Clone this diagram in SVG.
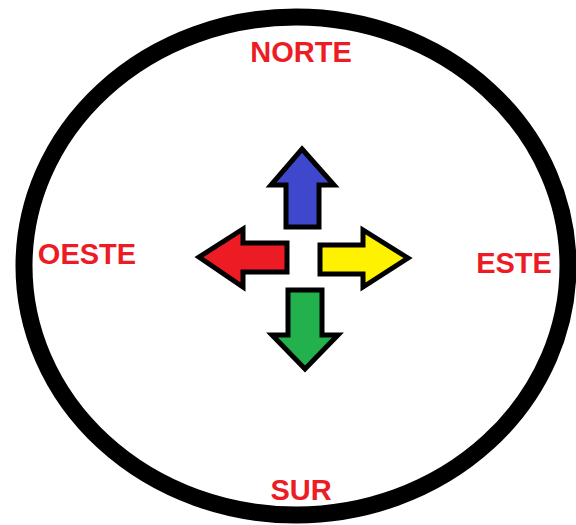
<svg xmlns="http://www.w3.org/2000/svg" width="576" height="525" viewBox="0 0 576 525">
<style>
.lbl{font-family:"Liberation Sans",Arial,sans-serif;font-weight:bold;font-size:29px;fill:#ed1c24;text-anchor:middle}
.arr{stroke:#000;stroke-width:5;stroke-linejoin:miter}
</style>
<rect width="576" height="525" fill="#fff"/>
<g id="ring"><ellipse cx="296" cy="266" rx="272" ry="249" fill="none" stroke="#000" stroke-width="17"/></g>
<g id="norte"><text class="lbl" x="301" y="62">NORTE</text></g>
<g id="oeste"><text class="lbl" x="87" y="264">OESTE</text></g>
<g id="este"><text class="lbl" x="514" y="273">ESTE</text></g>
<g id="sur"><text class="lbl" x="301" y="500">SUR</text></g>
<g id="connectors">
<g id="arrow-up"><polygon class="arr" fill="#3f48cc" points="302,149 334,185 319,185 319,227 286,227 286,185 271,185"/></g>
<g id="arrow-left"><polygon class="arr" fill="#ed1c24" points="199,257 243,229 243,243 287,243 287,272 243,272 243,287"/></g>
<g id="arrow-right"><polygon class="arr" fill="#fff200" points="408,258 363,230 363,245 320,245 320,274 363,274 363,287"/></g>
<g id="arrow-down"><polygon class="arr" fill="#22b14c" points="288,290 322,290 322,335 338,335 305,369 272,335 288,335"/></g>
</g>
</svg>
